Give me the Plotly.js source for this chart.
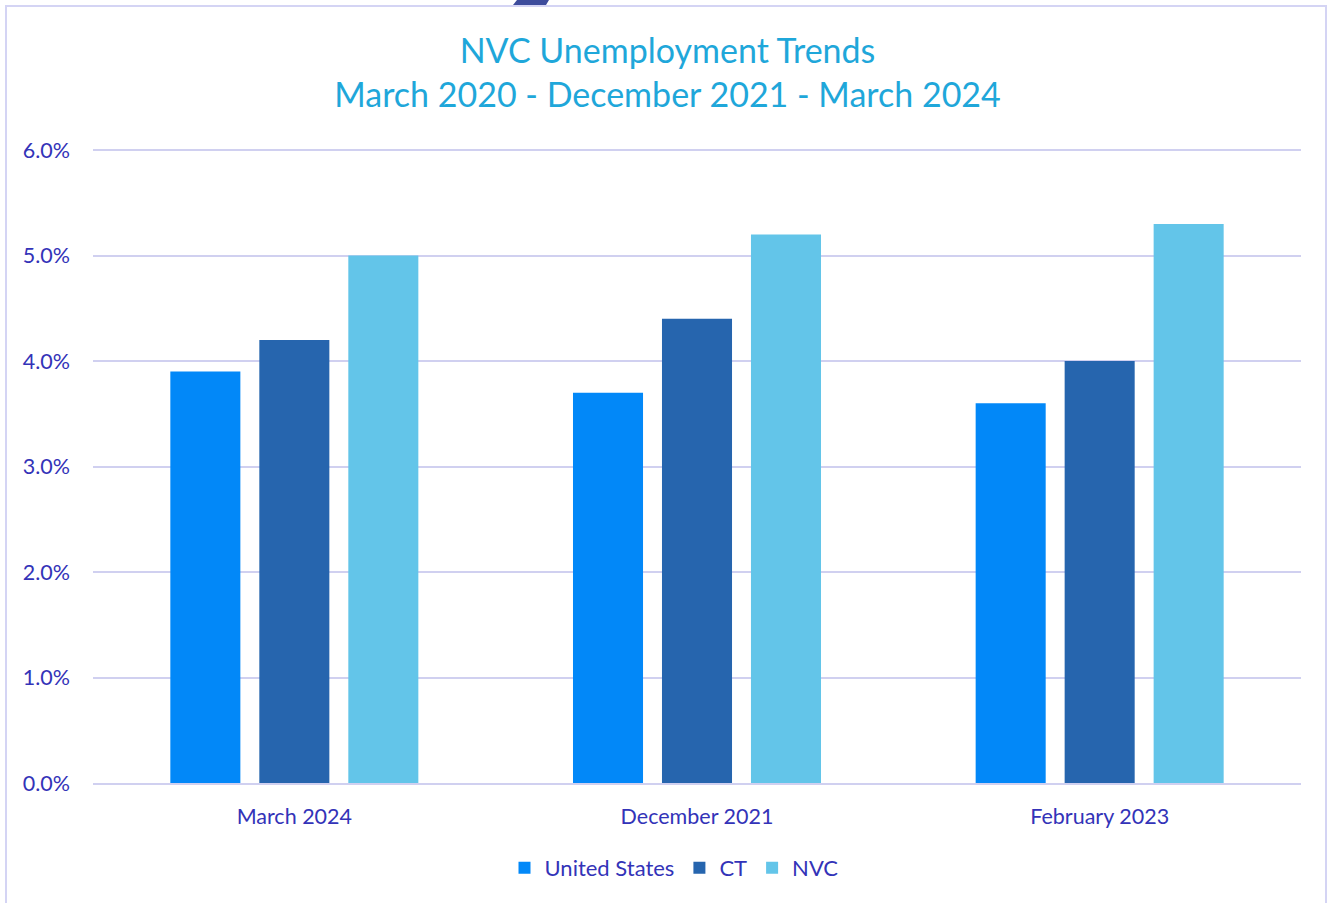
<!DOCTYPE html>
<html>
<head>
<meta charset="utf-8">
<script src="https://cdn.plot.ly/plotly-3.0.1.min.js"></script>
<style>
  html, body { margin: 0; padding: 0; background: #ffffff; overflow: hidden; }
  #frame { position: absolute; left: 5px; top: 5px; width: 1322px; height: 920px; border: 2px solid #d4d4f4; box-sizing: border-box; }
  #chart { position: absolute; left: 0; top: 0; width: 1335px; height: 903px; }
</style>
</head>
<body>
<div id="frame"></div>
<div id="chart"></div>
<script>
const categories = ["March 2024", "December 2021", "February 2023"];
const unitedStates = [3.9, 3.7, 3.6];
const ct = [4.2, 4.4, 4.0];
const nvc = [5.0, 5.2, 5.3];
const seriesNames = ["United States", "CT", "NVC"];
const seriesColors = ["#0288F8", "#2665AE", "#63C5E9"];

const FONT = "Lato, 'Open Sans', 'Noto Sans', sans-serif";
const tickColor = "#3333B8";

const traces = [unitedStates, ct, nvc].map((vals, i) => ({
  type: "bar",
  name: seriesNames[i],
  x: categories,
  y: vals,
  marker: { color: seriesColors[i] },
  hoverinfo: "skip"
}));

const L = 93, R = 1301, T = 149, B = 783;
const px = x => (x - L) / (R - L);
const py = y => (B - y) / (B - T);

const layout = {
  width: 1335,
  height: 903,
  autosize: false,
  paper_bgcolor: "rgba(0,0,0,0)",
  plot_bgcolor: "rgba(0,0,0,0)",
  margin: { l: L, r: 1335 - R, t: T, b: 903 - B, pad: 0, autoexpand: false },
  font: { family: FONT, color: tickColor },
  title: {
    text: "NVC Unemployment Trends<br>March 2020 - December 2021 - March 2024",
    font: { family: FONT, size: 34, color: "#1FA7DA" },
    x: 0.5, xref: "container", xanchor: "center",
    y: 1 - 63 / 903, yref: "container", yanchor: "middle"
  },
  barmode: "group",
  bargap: 0.337,
  bargroupgap: 0.213,
  xaxis: {
    type: "category",
    automargin: false,
    showgrid: false,
    showline: true,
    linecolor: "#D0D0F0",
    linewidth: 2,
    ticks: "",
    ticklabelstandoff: 13,
    tickfont: { family: FONT, size: 21.5, color: tickColor },
    zeroline: false
  },
  yaxis: {
    automargin: false,
    range: [0, 6.01],
    dtick: 1,
    tick0: 0,
    tickformat: ".1f",
    ticksuffix: "%",
    showgrid: true,
    gridcolor: "#D0D0F0",
    gridwidth: 2,
    zeroline: false,
    showline: false,
    ticks: "",
    ticklabelstandoff: 22,
    tickfont: { family: FONT, size: 21.5, color: tickColor }
  },
  showlegend: true,
  legend: {
    orientation: "h",
    x: px(674),
    xanchor: "center",
    y: -85 / (B - T),
    yanchor: "middle",
    font: { family: FONT, size: 22, color: tickColor },
    itemwidth: 30,
    traceorder: "normal"
  },
  shapes: [{
    type: "path",
    xref: "paper", yref: "paper",
    path: "M " + px(513) + " " + py(5) + " L " + px(517) + " " + py(0) +
          " L " + px(549) + " " + py(0) + " L " + px(546) + " " + py(5) + " Z",
    fillcolor: "#3D4C9C",
    line: { width: 0 },
    layer: "above"
  }]
};

Plotly.newPlot("chart", traces, layout, { displayModeBar: false, staticPlot: true });
</script>
</body>
</html>
